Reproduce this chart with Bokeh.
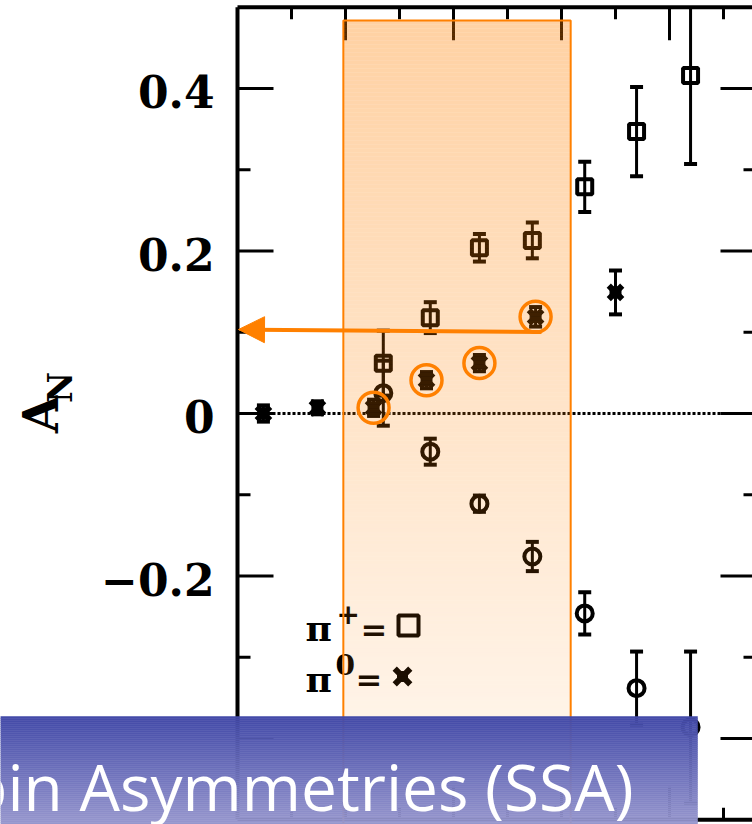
import numpy as np
from bokeh.plotting import figure
from bokeh.models import Range1d, Arrow, NormalHead
from bokeh.core.properties import value
from bokeh.embed import file_html
from bokeh.resources import INLINE

# ---------------- data ----------------
# pi+ (open squares)
pip_x = [0.270, 0.357, 0.448, 0.546, 0.643, 0.739, 0.839]
pip_y = [0.062, 0.118, 0.204, 0.213, 0.279, 0.347, 0.416]
pip_err = [0.040, 0.019, 0.017, 0.022, 0.031, 0.055, 0.109]

# pi- (open circles)
pim_x = [0.270, 0.357, 0.448, 0.546, 0.643, 0.739, 0.839]
pim_y = [0.025, -0.047, -0.111, -0.176, -0.246, -0.338, -0.386]
pim_err = [0.040, 0.016, 0.010, 0.018, 0.026, 0.045, 0.093]

# pi0 (filled crosses)
pi0_x = [0.048, 0.148, 0.252, 0.350, 0.448, 0.552, 0.700]
pi0_y = [0.000, 0.007, 0.007, 0.041, 0.062, 0.119, 0.149]
pi0_err = [0.010, 0.008, 0.010, 0.010, 0.010, 0.012, 0.027]

highlight_idx = [2, 3, 4, 5]          # circled pi0 points

y_label_ticks = [-0.2, 0.0, 0.2, 0.4]
y_label_text = ["\u22120.2", "0", "0.2", "0.4"]
y_major = [-0.4, -0.2, 0.0, 0.2, 0.4]
y_medium = [-0.3, -0.1, 0.1, 0.3]
x_major = [0.2, 0.4, 0.6, 0.8]
x_minor = [0.1, 0.3, 0.5, 0.7, 0.9]

band_x = [0.196, 0.617]               # highlighted x_F band
title_text = "Single Spin Asymmetries (SSA)"

# ---------------- geometry ----------------
W, H = 752, 824
XS, X0 = 540.0, 237.0      # px per unit, px of x=0
YS, Y0 = 812.5, 413.0      # px per unit, px of y=0

def dx(px):
    return (px - X0) / XS

def dy(py):
    return (Y0 - py) / YS

def lx(n):
    return n / XS

def ly(n):
    return n / YS

ORANGE = "#FF8000"
BLACK = "#000000"

p = figure(width=W, height=H, x_range=Range1d(dx(0), dx(W)), y_range=Range1d(dy(H), dy(0)),
           x_axis_type=None, y_axis_type=None, toolbar_location=None,
           output_backend="svg", min_border=0)
p.grid.visible = False
p.outline_line_color = None
p.background_fill_color = "white"
p.border_fill_color = "white"

y_top, y_bot = 0.5, -0.5
x_left, x_right = 0.0, dx(756)

# zero line (dotted)
p.segment(x0=[x_left], y0=[0], x1=[x_right], y1=[0], line_color=BLACK, line_width=3, line_dash="3 2")

# frame
p.segment(x0=[x_left, x_left, x_left], y0=[y_bot, y_top, y_bot],
          x1=[x_left, x_right, x_right], y1=[y_top, y_top, y_bot],
          line_color=BLACK, line_width=4)

# y ticks (left & right)
ym = np.array(y_major)
yd = np.array(y_medium)
p.segment(x0=np.full(len(ym), x_left), y0=ym, x1=np.full(len(ym), x_left + lx(36)), y1=ym,
          line_color=BLACK, line_width=3)
p.segment(x0=np.full(len(yd), x_left), y0=yd, x1=np.full(len(yd), x_left + lx(13)), y1=yd,
          line_color=BLACK, line_width=3)
p.segment(x0=np.full(len(ym), x_right - lx(36)), y0=ym, x1=np.full(len(ym), x_right), y1=ym,
          line_color=BLACK, line_width=3)
p.segment(x0=np.full(len(yd), x_right - lx(13)), y0=yd, x1=np.full(len(yd), x_right), y1=yd,
          line_color=BLACK, line_width=3)
# x ticks (top & bottom)
xm = np.array(x_major)
xn = np.array(x_minor)
p.segment(x0=xm, y0=np.full(len(xm), y_top), x1=xm, y1=np.full(len(xm), y_top - ly(33)),
          line_color=BLACK, line_width=3)
p.segment(x0=xn, y0=np.full(len(xn), y_top), x1=xn, y1=np.full(len(xn), y_top - ly(12)),
          line_color=BLACK, line_width=3)
p.segment(x0=xm, y0=np.full(len(xm), y_bot), x1=xm, y1=np.full(len(xm), y_bot + ly(33)),
          line_color=BLACK, line_width=3)
p.segment(x0=xn, y0=np.full(len(xn), y_bot), x1=xn, y1=np.full(len(xn), y_bot + ly(12)),
          line_color=BLACK, line_width=3)

SERIF = value("DejaVu Serif")

# tick labels
p.text(x=[dx(214)] * len(y_label_ticks), y=y_label_ticks, text=y_label_text,
       text_align="right", text_baseline="middle", y_offset=3,
       text_font=SERIF, text_font_style="bold", text_font_size="44px", text_color=BLACK)

# axis title A_N (rotated)
p.text(x=[dx(40)], y=[dy(414)], text=["A"], angle=np.pi / 2, text_align="center",
       text_baseline="middle", text_font=SERIF, text_font_style="bold",
       text_font_size="48px", text_color=BLACK)
p.text(x=[dx(59)], y=[dy(387)], text=["N"], angle=np.pi / 2, text_align="center",
       text_baseline="middle", text_font=SERIF, text_font_style="bold",
       text_font_size="34px", text_color=BLACK)


def error_bars(xs, ys, es):
    xs = np.array(xs); ys = np.array(ys); es = np.array(es)
    hi = np.minimum(ys + es, y_top)
    lo = np.maximum(ys - es, y_bot)
    p.segment(x0=xs, y0=lo, x1=xs, y1=hi, line_color=BLACK, line_width=3)
    cap_hi = (ys + es) <= y_top
    p.scatter(x=np.concatenate([xs[cap_hi], xs]), y=np.concatenate([(ys + es)[cap_hi], ys - es]),
              marker="dash", size=13, line_color=BLACK, line_width=4)


error_bars(pip_x, pip_y, pip_err)
error_bars(pim_x, pim_y, pim_err)
error_bars(pi0_x, pi0_y, pi0_err)

p.scatter(x=pip_x, y=pip_y, marker="square", size=15, fill_alpha=0, line_color=BLACK, line_width=4)
p.scatter(x=pim_x, y=pim_y, marker="circle", size=16, fill_alpha=0, line_color=BLACK, line_width=4)
p.scatter(x=pi0_x, y=pi0_y, marker="x", size=19, line_color=BLACK, line_width=6)
p.scatter(x=pi0_x, y=pi0_y, marker="square", size=11, fill_color=BLACK, line_color=BLACK)

# legend
p.text(x=[dx(305), dx(305)], y=[dy(627), dy(678)], text=["\u03c0", "\u03c0"],
       text_align="left", text_baseline="middle", text_font=SERIF, text_font_style="bold",
       text_font_size="36px", text_color=BLACK)
p.text(x=[dx(336), dx(335)], y=[dy(613), dy(664)], text=["+", "0"],
       text_align="left", text_baseline="middle", text_font=SERIF, text_font_style="bold",
       text_font_size="28px", text_color=BLACK)
p.text(x=[dx(360), dx(355)], y=[dy(629), dy(679)], text=["=", "="],
       text_align="left", text_baseline="middle", text_font=SERIF, text_font_style="bold",
       text_font_size="32px", text_color=BLACK)
p.scatter(x=[dx(408)], y=[dy(625)], marker="square", size=20, fill_alpha=0, line_color=BLACK, line_width=4)
p.scatter(x=[dx(402)], y=[dy(676)], marker="x", size=22, line_color=BLACK, line_width=6)
p.scatter(x=[dx(402)], y=[dy(676)], marker="square", size=10, fill_color=BLACK, line_color=BLACK)

# highlighted band: translucent orange gradient (strips aligned to pixels)
band_top_px, band_bot_px, step = 20, 824, 4
edges_px = np.arange(band_top_px, band_bot_px + step, step)
tops = [dy(v) for v in edges_px[:-1]]
bots = [dy(v) for v in edges_px[1:]]
frac = (edges_px[:-1] - band_top_px) / (band_bot_px - band_top_px)
alphas = list(0.36 - 0.31 * frac)
p.quad(left=band_x[0], right=band_x[1], top=tops, bottom=bots,
       fill_color=ORANGE, fill_alpha=alphas, line_color=None)
p.quad(left=[band_x[0]], right=[band_x[1]], top=[dy(band_top_px)], bottom=[dy(band_bot_px + 10)],
       fill_alpha=0, line_color=ORANGE, line_width=2)

# circled pi0 points
p.scatter(x=[pi0_x[i] for i in highlight_idx], y=[pi0_y[i] for i in highlight_idx],
          marker="circle", size=31, fill_alpha=0, line_color=ORANGE, line_width=3.5)

# arrow to the axis
p.add_layout(Arrow(end=NormalHead(size=26, fill_color=ORANGE, line_color=ORANGE, line_width=1),
                   x_start=dx(541), y_start=dy(331.5), x_end=dx(238), y_end=dy(329),
                   line_color=ORANGE, line_width=4))

# title banner with vertical gradient
ban_top_px, ban_bot_px = 716, 824
bedges = np.arange(ban_top_px, ban_bot_px + 2, 2)
bf = (bedges[:-1] - ban_top_px) / (ban_bot_px - ban_top_px)
c_top = np.array([67, 74, 168])
c_bot = np.array([152, 152, 206])
bcols = ["#%02x%02x%02x" % tuple(int(round(v)) for v in (c_top + (c_bot - c_top) * f)) for f in bf]
p.quad(left=dx(0), right=dx(697), top=[dy(v) for v in bedges[:-1]], bottom=[dy(v) for v in bedges[1:]],
       fill_color=bcols, line_color=bcols, line_width=0.5)
p.text(x=[dx(633)], y=[dy(786)], text=[title_text], text_align="right", text_baseline="middle",
       text_font=value("Open Sans"), text_font_size="64px", text_color="white")

open("out.html", "w").write(file_html(p, INLINE))
